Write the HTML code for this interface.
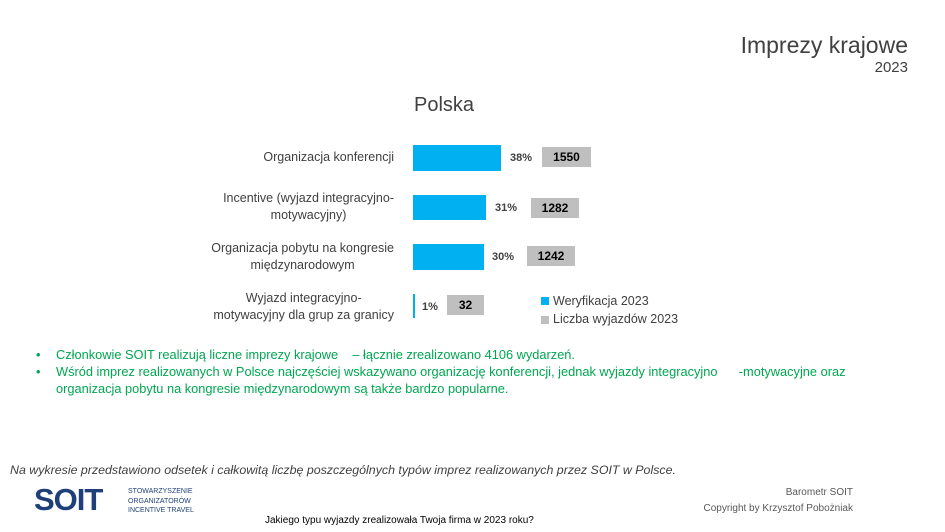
<!DOCTYPE html>
<html><head><meta charset="utf-8"><style>
body{margin:0;width:945px;height:532px;background:#fff;position:relative;overflow:hidden;font-family:"Liberation Sans",sans-serif;}
.a{position:absolute;white-space:nowrap}
.cat{position:absolute;right:551px;text-align:center;font-size:12.5px;color:#404040;line-height:17px}
.blue{position:absolute;left:413px;background:#00b0f0}
.gray{position:absolute;background:#bfbfbf;font-weight:bold;font-size:12px;color:#000;text-align:center;line-height:20px}
.pct{position:absolute;font-size:11px;font-weight:bold;color:#404040}
.g{color:#00a651;font-size:12.8px}
</style></head><body>
<div class="a" style="right:37px;top:32px;font-size:23px;color:#404040">Imprezy krajowe</div>
<div class="a" style="right:37px;top:59px;font-size:15px;color:#404040">2023</div>
<div class="a" style="left:414px;top:94px;font-size:20px;color:#404040">Polska</div>

<div class="cat" style="top:149px">Organizacja konferencji</div>
<div class="cat" style="top:190px">Incentive (wyjazd integracyjno-<br>motywacyjny)</div>
<div class="cat" style="top:240px">Organizacja pobytu na kongresie<br>międzynarodowym</div>
<div class="cat" style="top:290px">Wyjazd integracyjno-<br>motywacyjny dla grup za granicy</div>

<div class="blue" style="top:145px;width:88px;height:26px"></div>
<div class="blue" style="top:195px;width:73px;height:25px"></div>
<div class="blue" style="top:244px;width:71px;height:26px"></div>
<div class="blue" style="top:294px;width:2px;height:24px"></div>

<div class="pct" style="left:510px;top:152px">38%</div>
<div class="pct" style="left:495px;top:202px">31%</div>
<div class="pct" style="left:492px;top:251px">30%</div>
<div class="pct" style="left:422px;top:301px">1%</div>

<div class="gray" style="left:542px;top:147px;width:49px;height:20px">1550</div>
<div class="gray" style="left:531px;top:198px;width:48px;height:20px">1282</div>
<div class="gray" style="left:527px;top:246px;width:48px;height:20px">1242</div>
<div class="gray" style="left:447px;top:295px;width:37px;height:20px">32</div>

<div class="a" style="left:541px;top:297px;width:8px;height:8px;background:#00b0f0"></div>
<div class="a" style="left:553px;top:294px;font-size:12.5px;color:#404040">Weryfikacja 2023</div>
<div class="a" style="left:541px;top:316px;width:8px;height:8px;background:#bfbfbf"></div>
<div class="a" style="left:553px;top:312px;font-size:12.5px;color:#404040">Liczba wyjazdów 2023</div>

<div class="a g" style="left:36px;top:347px">•</div>
<div class="a g" style="left:56px;top:347px">Członkowie SOIT realizują liczne imprezy krajowe &nbsp;&nbsp; – łącznie zrealizowano 4106 wydarzeń.</div>
<div class="a g" style="left:36px;top:364px">•</div>
<div class="a g" style="left:56px;top:364px">Wśród imprez realizowanych w Polsce najczęściej wskazywano organizację konferencji, jednak wyjazdy integracyjno &nbsp;&nbsp;&nbsp;&nbsp; -motywacyjne oraz</div>
<div class="a g" style="left:56px;top:381px">organizacja pobytu na kongresie międzynarodowym są także bardzo popularne.</div>

<div class="a" style="left:10px;top:463px;font-size:12.4px;font-style:italic;color:#404040">Na wykresie przedstawiono odsetek i całkowitą liczbę poszczególnych typów imprez realizowanych przez SOIT w Polsce.</div>
<div class="a" style="left:34px;top:482px;font-size:31px;font-weight:bold;color:#1f3f7a;letter-spacing:-1px">SOIT</div>
<div class="a" style="left:128px;top:487px;font-size:7px;line-height:9.5px;color:#1f3f7a">STOWARZYSZENIE<br>ORGANIZATORÓW<br>INCENTIVE TRAVEL</div>
<div class="a" style="right:92px;top:487px;font-size:10px;color:#595959;text-align:right">Barometr SOIT</div>
<div class="a" style="right:92px;top:503px;font-size:10px;color:#595959">Copyright by Krzysztof Pobożniak</div>
<div class="a" style="left:265px;top:515px;font-size:10px;color:#000">Jakiego typu wyjazdy zrealizowała Twoja firma w 2023 roku?</div>
</body></html>
